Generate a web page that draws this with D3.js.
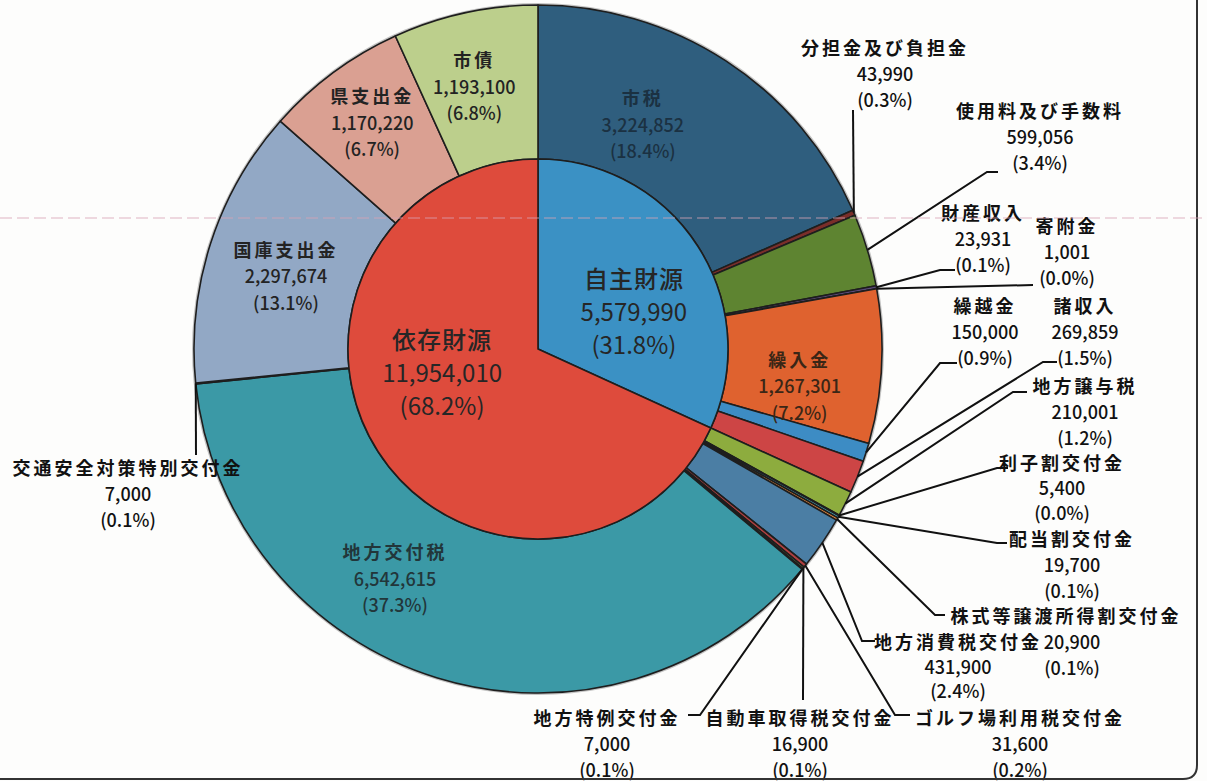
<!DOCTYPE html>
<html>
<head>
<meta charset="utf-8">
<script src="https://cdn.jsdelivr.net/npm/d3@7"></script>
<style>
  html, body { margin: 0; padding: 0; background: #fdfdfc; }
  svg { display: block; }
  text { font-family: "Noto Sans CJK JP", "Noto Sans", sans-serif; }
</style>
</head>
<body>
<div id="chart"></div>
<script>
// inner ring: 自主財源 / 依存財源
const innerNames = ["自主財源", "依存財源"];
const innerValues = [5579990, 11954010];
const innerPct = ["31.8%", "68.2%"];

// outer ring, clockwise from 12 o'clock
const outerNames = [
  "市税", "分担金及び負担金", "使用料及び手数料", "財産収入", "寄附金", "繰入金", "繰越金", "諸収入",
  "地方譲与税", "利子割交付金", "配当割交付金", "株式等譲渡所得割交付金", "地方消費税交付金",
  "ゴルフ場利用税交付金", "自動車取得税交付金", "地方特例交付金", "地方交付税",
  "交通安全対策特別交付金", "国庫支出金", "県支出金", "市債"
];
const outerValues = [
  3224852, 43990, 599056, 23931, 1001, 1267301, 150000, 269859,
  210001, 5400, 19700, 20900, 431900,
  31600, 16900, 7000, 6542615,
  7000, 2297674, 1170220, 1193100
];
const outerPct = [
  "18.4%", "0.3%", "3.4%", "0.1%", "0.0%", "7.2%", "0.9%", "1.5%",
  "1.2%", "0.0%", "0.1%", "0.1%", "2.4%",
  "0.2%", "0.1%", "0.1%", "37.3%",
  "0.1%", "13.1%", "6.7%", "6.8%"
];

const innerColors = ["#3b91c4", "#de4b3c"];
const outerColors = [
  "#2f5e7e", "#7a2e2a", "#5e8431", "#5b4a7a", "#2f8aa0", "#df622f", "#3d8cc4", "#cd4545",
  "#8dac3e", "#7a64a2", "#45a7c0", "#e8883a", "#4b7ea4",
  "#b04040", "#80a050", "#70609a", "#3b99a6",
  "#d08040", "#92a8c5", "#daa092", "#bccf8c"
];

const width = 1207, height = 781;
const cx = 538, cy = 349, R = 344, r0 = 190;
const fmt = d3.format(",");

const svg = d3.select("#chart").append("svg")
  .attr("width", width)
  .attr("height", height);

const g = svg.append("g").attr("transform", `translate(${cx},${cy})`);

const pie = d3.pie().sort(null).value(d => d.value);
const innerData = pie(innerNames.map((n, i) => ({name: n, value: innerValues[i], pct: innerPct[i], color: innerColors[i]})));
const outerData = pie(outerNames.map((n, i) => ({name: n, value: outerValues[i], pct: outerPct[i], color: outerColors[i]})));

const arcInner = d3.arc().innerRadius(0).outerRadius(r0);
const arcOuter = d3.arc().innerRadius(r0).outerRadius(R);
const arcEdge = d3.arc().innerRadius(R).outerRadius(R);
const arcInnerLabel = d3.arc().innerRadius(114).outerRadius(114);

// soft shadow under the rings
g.append("circle").attr("r", R + 2).attr("fill", "#555").attr("opacity", 0.35);

g.selectAll("path.outer")
  .data(outerData)
  .enter().append("path")
    .attr("class", "outer")
    .attr("d", arcOuter)
    .attr("fill", d => d.data.color)
    .attr("stroke", "#1e1e1e")
    .attr("stroke-width", 1.6)
    .attr("stroke-linejoin", "round");

g.selectAll("path.inner")
  .data(innerData)
  .enter().append("path")
    .attr("class", "inner")
    .attr("d", arcInner)
    .attr("fill", d => d.data.color)
    .attr("stroke", "#1e1e1e")
    .attr("stroke-width", 1.6)
    .attr("stroke-linejoin", "round");

function block(parent, x, y, lines, size, lineH, color, spacing, weights) {
  const t = parent.append("text")
    .attr("text-anchor", "middle")
    .attr("fill", color)
    .style("font-size", size + "px");
  lines.forEach((s, i) => {
    t.append("tspan")
      .attr("x", Array.isArray(x) ? x[i] : x)
      .attr("y", y + i * lineH)
      .attr("dominant-baseline", "central")
      .style("letter-spacing", i === 0 ? spacing + "px" : "0px")
      .style("font-weight", weights[i === 0 ? 0 : 1])
      .text(s);
  });
}

// labels for the two inner slices (offsets from the arc centroid)
const innerLabelShift = {"自主財源": [0, -10], "依存財源": [0, -72]};
innerData.forEach(d => {
  const [x, y] = arcInnerLabel.centroid(d);
  const [dx, dy] = innerLabelShift[d.data.name];
  block(g, x + dx, y + dy, [d.data.name, fmt(d.data.value), `(${d.data.pct})`], 24, 33, "#262626", 1, [500, 400]);
});

// labels drawn inside the wide outer slices
const insideShift = {
  "市税": [-41, -28, "#1b3142"],
  "繰入金": [-5, -4, "#3a2616"],
  "地方交付税": [-65, -53, "#22363a"],
  "国庫支出金": [2, -18, "#232323"],
  "県支出金": [-7, -39, "#232323"],
  "市債": [-7, -29, "#232323"]
};
outerData.forEach(d => {
  const s = insideShift[d.data.name];
  if (!s) return;
  const [x, y] = arcOuter.centroid(d);
  block(g, x + s[0], y + s[1], [d.data.name, fmt(d.data.value), `(${d.data.pct})`], 18, 26.5, s[2], 3, ["bold", 500]);
});

// callout labels: text centre, leader elbow, leader end (page coordinates)
const callouts = {
  "分担金及び負担金": {at: [885, 47], elbow: [853, 110]},
  "使用料及び手数料": {at: [1040, 110], elbow: [987, 172], end: [998, 172]},
  "財産収入": {at: [983, 212], elbow: [940, 270], end: [955, 270]},
  "寄附金": {at: [1067, 225], elbow: [1033, 285]},
  "繰越金": {at: [985, 305], elbow: [940, 363], end: [957, 363]},
  "諸収入": {at: [1085, 305], elbow: [1043, 362], end: [1057, 362]},
  "地方譲与税": {at: [1085, 385], elbow: [1013, 392], end: [1027, 392]},
  "利子割交付金": {at: [1062, 462], lh: 25, elbow: [997, 468], end: [1008, 468]},
  "配当割交付金": {at: [1072, 538], elbow: [997, 543], end: [1007, 543]},
  "株式等譲渡所得割交付金": {at: [1066, 615], numX: 1072, elbow: [935, 615], end: [945, 615]},
  "地方消費税交付金": {at: [958, 641], lh: 24.5, elbow: [862, 641], end: [875, 641]},
  "ゴルフ場利用税交付金": {at: [1020, 717], elbow: [895, 715], end: [910, 715]},
  "自動車取得税交付金": {at: [800, 717], elbow: [803, 700]},
  "地方特例交付金": {at: [607, 717], elbow: [700, 715], end: [688, 715]},
  "交通安全対策特別交付金": {at: [128, 467], elbow: [196, 455]}
};

const lineG = svg.append("g");
const textG = svg.append("g");
outerData.forEach(d => {
  const c = callouts[d.data.name];
  if (!c) return;
  const [ex, ey] = arcEdge.centroid(d);
  const pts = [[cx + ex, cy + ey], c.elbow];
  if (c.end) pts.push(c.end);
  lineG.append("path")
    .attr("d", d3.line()(pts))
    .attr("fill", "none")
    .attr("stroke", "#111")
    .attr("stroke-width", 2);
  const nx = c.numX || c.at[0];
  block(textG, [c.at[0], nx, nx], c.at[1], [d.data.name, fmt(d.data.value), `(${d.data.pct})`],
        18, c.lh || 26, "#111", 3, ["bold", 500]);
});

// page frame (rounded bottom-right corner of the scanned sheet)
svg.append("path")
  .attr("d", "M1197,0 V765 Q1197,779 1183,779 H0")
  .attr("fill", "none")
  .attr("stroke", "#333")
  .attr("stroke-width", 2);

// faint scan line across the sheet
svg.append("line")
  .attr("x1", 0).attr("x2", width)
  .attr("y1", 218).attr("y2", 218)
  .attr("stroke", "#d9a3b5")
  .attr("stroke-width", 1)
  .attr("stroke-dasharray", "12 5")
  .attr("opacity", 0.8);
</script>
</body>
</html>
